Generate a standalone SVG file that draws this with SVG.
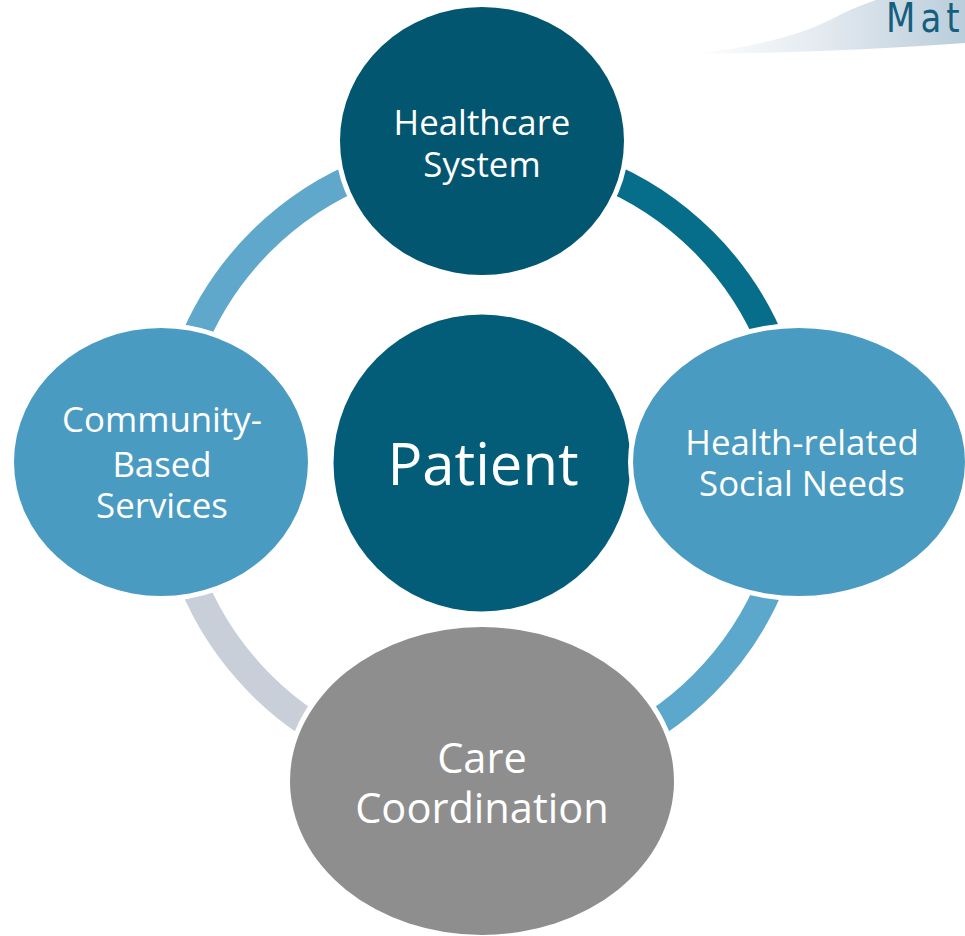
<svg xmlns="http://www.w3.org/2000/svg" width="965" height="936" viewBox="0 0 965 936">
<defs>
<linearGradient id="swoosh" x1="690" y1="0" x2="965" y2="0" gradientUnits="userSpaceOnUse">
<stop offset="0" stop-color="#ffffff"/>
<stop offset="0.5" stop-color="#e2e9ef"/>
<stop offset="1" stop-color="#bacddb"/>
</linearGradient>
</defs>
<style>
.ring{fill:none;stroke-width:28}
.node{stroke:#ffffff;stroke-width:10;paint-order:stroke}
.lbl{font-family:"Open Sans","Liberation Sans",sans-serif;fill:#ffffff;text-anchor:middle}
</style>
<rect width="965" height="936" fill="#ffffff"/>
<g id="logo">
<path d="M690 54 Q780 45 830 20 Q852 8 876 0 L965 0 L965 43 Q830 53 690 54 Z" fill="url(#swoosh)"/>
<text transform="translate(886 32) scale(0.85 1)" font-family="DejaVu Sans, Verdana, sans-serif" font-size="40" fill="#135f7d" letter-spacing="6">Mat</text>
</g>
<g id="connectors">
<path class="ring" stroke="#5fa7cb" d="M169 463 A313 313 0 0 1 482 150"/>
<path class="ring" stroke="#066e8b" d="M482 150 A313 313 0 0 1 795 463"/>
<path class="ring" stroke="#5ba8cc" d="M795 463 A313 313 0 0 1 482 776"/>
<path class="ring" stroke="#c8cfd9" d="M482 776 A313 313 0 0 1 169 463"/>
</g>
<g id="healthcare-system">
<ellipse class="node" cx="482" cy="141" rx="142" ry="134" fill="#02566f"/>
<text class="lbl" x="482" y="135" font-size="34.8">Healthcare</text>
<text class="lbl" x="482" y="177" font-size="34.8">System</text>
</g>
<g id="patient">
<ellipse class="node" cx="482" cy="463" rx="148.5" ry="148.5" fill="#045d78"/>
<text class="lbl" x="483" y="485" font-size="58">Patient</text>
</g>
<g id="community-based-services">
<ellipse class="node" cx="161" cy="462" rx="147" ry="134" fill="#4a9bc2"/>
<text class="lbl" x="162" y="432" font-size="34.8">Community-</text>
<text class="lbl" x="162" y="477" font-size="34.8">Based</text>
<text class="lbl" x="162" y="518" font-size="34.8">Services</text>
</g>
<g id="health-related-social-needs">
<ellipse class="node" cx="799" cy="462" rx="166" ry="134" fill="#4a9bc2"/>
<text class="lbl" x="802" y="455" font-size="34.8">Health-related</text>
<text class="lbl" x="802" y="496" font-size="34.8">Social Needs</text>
</g>
<g id="care-coordination">
<ellipse class="node" cx="482" cy="781" rx="192" ry="154" fill="#8e8e8e"/>
<text class="lbl" x="482" y="773" font-size="41.6">Care</text>
<text class="lbl" x="482" y="823" font-size="41.6">Coordination</text>
</g>
</svg>
